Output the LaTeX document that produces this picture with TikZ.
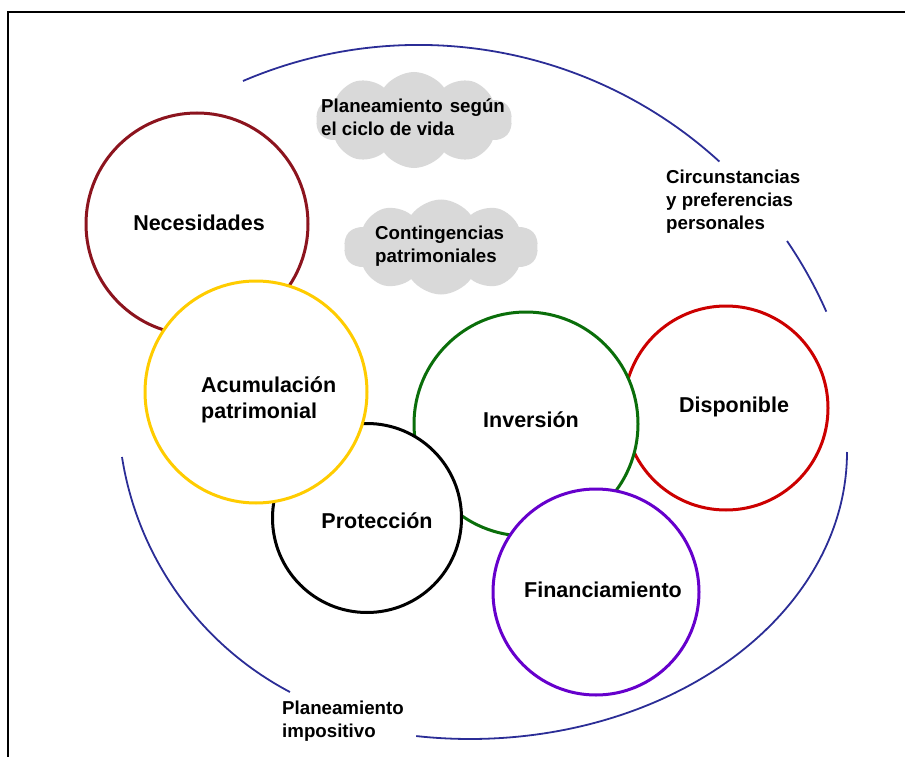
\documentclass[tikz,border=0pt]{standalone}
\usepackage{fontspec}
\setmainfont{Liberation Sans}
\usetikzlibrary{shapes.symbols}

\definecolor{arcblue}{RGB}{43,45,150}
\definecolor{needred}{RGB}{140,20,30}
\definecolor{accgold}{RGB}{255,204,0}
\definecolor{invgreen}{RGB}{10,110,10}
\definecolor{dispred}{RGB}{204,0,0}
\definecolor{finpurple}{RGB}{102,0,204}
\definecolor{cloudgray}{RGB}{217,217,217}

\tikzset{
  ring/.style={circle, draw=#1, line width=3pt, fill=white, inner sep=0pt},
  bigtext/.style={font=\bfseries\fontsize{21.5}{26}\selectfont, inner sep=0pt},
  smalltext/.style={font=\bfseries\fontsize{18.7}{23}\selectfont, inner sep=0pt, align=left},
  puff/.style={cloud, cloud puffs=10, cloud puff arc=110, aspect=2, fill=cloudgray, draw=none, inner sep=0pt},
  outerarc/.style={draw=arcblue, line width=1.8pt},
  frameline/.style={draw=black, line width=2pt}
}

\begin{document}
\begin{tikzpicture}[x=1pt, y=-1pt]
  \useasboundingbox (0,0) rectangle (905,757);

  % frame (top and left edges only)
  \draw[frameline] (905,12) -- (8,12) -- (8,757);

  % outer planning ring, drawn as open arcs
  \coordinate (topA) at (243,81);
  \coordinate (rightA) at (787,241);
  \coordinate (rightB) at (847,452);
  \coordinate (leftA) at (122,457);
  \draw[outerarc] (topA) arc[start angle=-113.2, end angle=-47.6, radius=446];
  \draw[outerarc] (rightA) arc[start angle=-34.3, end angle=-23.9, radius=446];
  \draw[outerarc] (rightB) arc[start angle=0, end angle=98.2, x radius=377, y radius=287];
  \draw[outerarc] (leftA) arc[start angle=171.1, end angle=117.8, radius=322];

  % clouds
  \node[puff, minimum width=196pt, minimum height=96pt] (cloudA) at (414,120) {};
  \node[puff, minimum width=194pt, minimum height=95pt] (cloudB) at (441,247) {};

  % circles, back to front
  \node[ring=needred,   minimum size=222pt] (nec) at (197,224) {};
  \node[ring=dispred,   minimum size=204pt] (dis) at (726,408) {};
  \node[ring=invgreen,  minimum size=224pt] (inv) at (526,424) {};
  \node[ring=black,     minimum size=189pt] (pro) at (367,518) {};
  \node[ring=finpurple, minimum size=206pt] (fin) at (596,592) {};
  \node[ring=accgold,   minimum size=222pt] (acu) at (256,392) {};

  % circle labels
  \node[bigtext] (tnec) at (199,223) {Necesidades};
  \node[bigtext] (tdis) at (734,407) {Disponible};
  \node[bigtext] (tinv) at (531,420) {Inversión};
  \node[bigtext] (tpro) at (377,521) {Protección};
  \node[bigtext] (tfin) at (603,590) {Financiamiento};
  \node[bigtext, align=left, anchor=west] (tacu) at (201,400) {Acumulación\\patrimonial};

  % free labels
  \node[smalltext, anchor=west] (tcA) at (321,117) {Planeamiento\hspace{0.1em} según\\el ciclo de vida};
  \node[smalltext, anchor=west] (tcB) at (375,246) {Contingencias\\patrimoniales};
  \node[smalltext, anchor=west] (tcir) at (666,202) {Circunstancias\\y preferencias\\personales};
  \node[smalltext, anchor=west] (timp) at (282,721) {Planeamiento\\impositivo};
\end{tikzpicture}
\end{document}
